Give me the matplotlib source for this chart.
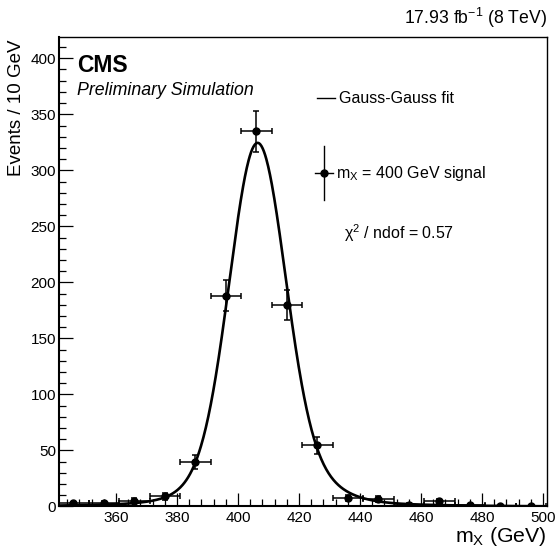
import numpy as np
import matplotlib
matplotlib.use("Agg")
import matplotlib.pyplot as plt
from matplotlib.ticker import MultipleLocator

# binned signal sample (10 GeV bins)
mass = [346, 356, 366, 376, 386, 396, 406, 416, 426, 436, 446, 456, 466, 476, 486, 496]
events = [2.7, 3.2, 5.0, 9.2, 39.5, 188, 335, 180, 54.5, 7.7, 6.8, 1.5, 4.7, 0.9, 0.6, 0.8]
events_err = [1.6, 1.8, 2.2, 3.0, 6.3, 13.7, 18.3, 13.4, 7.4, 2.8, 2.6, 1.2, 2.2, 0.9, 0.8, 0.9]
bin_half = [5] * len(mass)

# fitted curve parameters (core, wider, tail gaussians)
fit_amp = [273, 48, 4]
fit_mean = [406.3, 408.5, 408.0]
fit_sigma = [8.9, 15.0, 38.0]
fit_range = (341, 501)

plt.rcParams['font.family'] = ['Liberation Sans', 'DejaVu Sans']
plt.rcParams['mathtext.fontset'] = 'custom'
plt.rcParams['mathtext.rm'] = 'Liberation Sans'
plt.rcParams['mathtext.it'] = 'Liberation Sans:italic'
plt.rcParams['mathtext.bf'] = 'Liberation Sans:bold'

fig = plt.figure(figsize=(5.57, 5.53), dpi=100)
ax = fig.add_axes([0.1054, 0.0841, 0.876, 0.849])

# fit curve
xs = np.linspace(fit_range[0], fit_range[1], 800)
curve = np.zeros_like(xs)
for a, m, s in zip(fit_amp, fit_mean, fit_sigma):
    curve += a * np.exp(-0.5 * ((xs - m) / s) ** 2)
ax.plot(xs, curve, color='black', lw=1.9, zorder=2)

# data points
ax.errorbar(mass, events, yerr=events_err, xerr=bin_half, fmt='o', color='black',
            ms=5, elinewidth=1.1, capsize=2, capthick=1.1, zorder=3, clip_on=True)

ax.set_xlim(341.2, 501.2)
ax.set_ylim(0, 419)
ax.xaxis.set_major_locator(MultipleLocator(20))
ax.xaxis.set_minor_locator(MultipleLocator(4))
ax.yaxis.set_major_locator(MultipleLocator(50))
ax.yaxis.set_minor_locator(MultipleLocator(10))
ax.tick_params(which='both', direction='in', top=False, right=False, labelsize=11, width=0.9)
ax.tick_params(axis='x', which='major', length=9.5, pad=3)
ax.tick_params(axis='x', which='minor', length=4.7)
ax.tick_params(axis='y', which='major', length=10, pad=2)
ax.tick_params(axis='y', which='minor', length=5)
for side in ['left', 'bottom']:
    ax.spines[side].set_linewidth(1.5)
for side in ['top', 'right']:
    ax.spines[side].set_linewidth(1.0)

# CMS labels
ax.text(0.0375, 0.940, 'CMS', transform=ax.transAxes, fontsize=16.5, fontweight='bold',
        ha='left', va='center')
ax.text(0.0375, 0.885, 'Preliminary Simulation', transform=ax.transAxes, fontsize=12.8,
        style='italic', ha='left', va='center')

# legend drawn by hand
ax.plot([0.529, 0.566], [0.8695, 0.8695], transform=ax.transAxes, color='black', lw=1.0)
ax.text(0.574, 0.8695, 'Gauss-Gauss fit', transform=ax.transAxes, fontsize=11.5,
        ha='left', va='center')
ax.plot([0.5436, 0.5436], [0.653, 0.767], transform=ax.transAxes, color='black', lw=1.0)
ax.plot([0.5252, 0.562], [0.7097, 0.7097], transform=ax.transAxes, color='black', lw=1.0)
ax.plot([0.5436], [0.7097], 'o', transform=ax.transAxes, color='black', ms=5)
ax.text(0.568, 0.7097, r'm$_{\mathrm{X}}$ = 400 GeV signal', transform=ax.transAxes,
        fontsize=11.5, ha='left', va='center')
ax.text(0.5846, 0.5825, r'χ$^{2}$ / ndof = 0.57', transform=ax.transAxes, fontsize=11.5,
        ha='left', va='center')

# axis titles and lumi label
fig.text(0.0305, 0.9277, 'Events / 10 GeV', rotation=90, fontsize=13.5, ha='center', va='top')
fig.text(0.982, 0.029, r'm$_{\mathrm{X}}$ (GeV)', fontsize=15.3, ha='right', va='center')
fig.text(0.982, 0.9675, r'17.93 fb$^{-1}$ (8 TeV)', fontsize=12.7, ha='right', va='center')

fig.savefig('out.png', dpi=100)
